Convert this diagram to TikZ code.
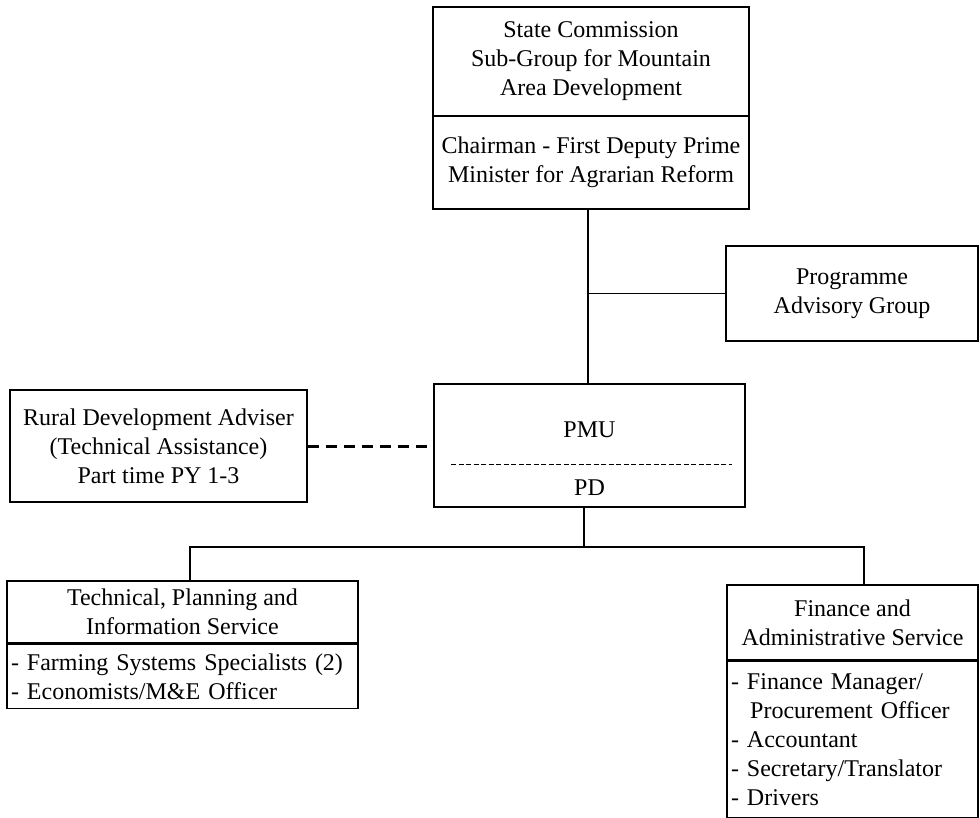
\documentclass[tikz,border=0pt]{standalone}
\usepackage{fontspec}
\setmainfont{Liberation Serif}
\usetikzlibrary{positioning, calc}

\begin{document}
\begin{tikzpicture}[
        x=1pt, y=-1pt,
        font=\fontsize{24}{29}\selectfont,
        % Styles for the organisation chart
        unit/.style={
            rectangle, draw, fill=white, line width=1.6pt,
            inner sep=3pt, align=center
        },
        staff/.style={
            rectangle, draw, fill=white, line width=1.6pt,
            anchor=north west, inner xsep=4pt, inner ysep=3pt, align=left
        },
        link/.style={line width=1.6pt},
        advice/.style={line width=3pt, dash pattern=on 11pt off 7pt},
        rule/.style={line width=0.9pt, dash pattern=on 5pt off 2.5pt}
    ]
    \useasboundingbox (0,0) rectangle (980,817);

    % 1. STATE COMMISSION (two stacked parts)
    \node[unit, minimum width=316pt, minimum height=109pt] (commission) at (591, 61.5)
        {State Commission\\Sub-Group for Mountain\\Area Development};
    \node[unit, minimum width=316pt, minimum height=93pt] (chairman) at (591, 162.5)
        {Chairman - First Deputy Prime\\Minister for Agrarian Reform};

    % 2. PROGRAMME ADVISORY GROUP
    \node[unit, minimum width=252pt, minimum height=95pt] (pag) at (852, 293.5)
        {Programme\\Advisory Group};

    % 3. PMU with PD
    \node[unit, minimum width=311pt, minimum height=123pt] (pmu) at (589.5, 445.5) {};
    \node (pmutitle) at (589.5, 430) {PMU};
    \node (pd) at (589.5, 488) {PD};
    \draw[rule] ([shift={(18,18.5)}]pmu.west) -- ([shift={(-14,18.5)}]pmu.east);

    % 4. RURAL DEVELOPMENT ADVISER
    \node[unit, minimum width=297pt, minimum height=112pt] (rural) at (158.5, 446)
        {Rural Development Adviser\\(Technical Assistance)\\Part time PY 1-3};

    % 5. TECHNICAL SERVICE
    \node[unit, minimum width=351pt, minimum height=62pt] (techhead) at (182.5, 612)
        {Technical, Planning and\\Information Service};
    \node[staff, minimum width=351pt, minimum height=64pt, text width=343pt] (techstaff) at (techhead.south west)
        {- Farming Systems Specialists (2)\\- Economists/M\&E Officer};

    % 6. FINANCE SERVICE
    \node[unit, minimum width=251pt, minimum height=75pt] (finhead) at (852.5, 622.5)
        {Finance and\\Administrative Service};
    \node[staff, minimum width=251pt, minimum height=156pt, text width=243pt] (finstaff) at (finhead.south west)
        {- Finance Manager/\\\hspace*{0.8em}Procurement Officer\\- Accountant\\- Secretary/Translator\\- Drivers};

    % Connectors
    \draw[link] (chairman.south -| 588,0) -- (pmu.north -| 588,0);
    \coordinate (pagjoin) at (pag.west -| 588,0);
    \draw[link] (pagjoin) -- (pag.west);
    \draw[advice] (rural.east) -- (rural.east -| pmu.west);

    \coordinate (fork) at (584, 547);
    \draw[link] (pmu.south -| fork) -- (fork);
    \draw[link] (fork) -| ([xshift=7.5pt]techhead.north);
    \draw[link] (fork) -| ([xshift=11.5pt]finhead.north);

\end{tikzpicture}
\end{document}
